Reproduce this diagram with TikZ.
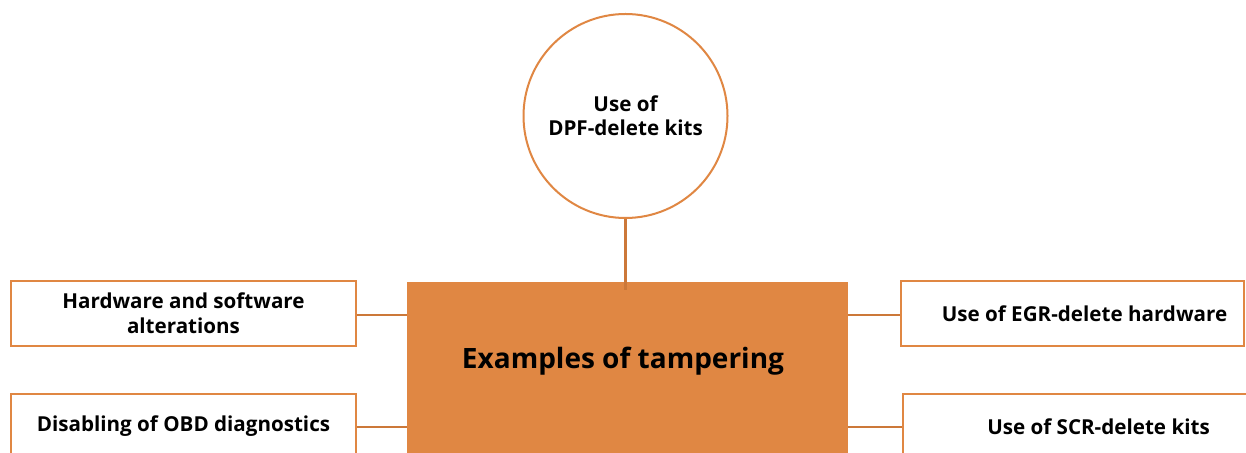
\documentclass[tikz,border=0pt]{standalone}
\usepackage{fontspec}
\setmainfont{Open Sans}
\newlength{\du}
\setlength{\du}{0.5pt}
\definecolor{tamperfill}{rgb}{0.878431, 0.529412, 0.262745}
\definecolor{tamperline}{rgb}{0.800000, 0.470588, 0.223529}
\tikzset{
  sidebox/.style={draw=tamperfill, line width=2.4\du, fill=white, minimum height=65\du,
    inner sep=0pt, align=center, font=\fontsize{10.3}{12.5}\selectfont\bfseries},
  kitcircle/.style={circle, draw=tamperfill, line width=2\du, fill=white, minimum size=204\du,
    inner sep=0pt, align=center, font=\fontsize{10.3}{12}\selectfont\bfseries},
  link/.style={draw=tamperline, line width=2.4\du}
}

\begin{document}
\begin{tikzpicture}
\pgftransformxscale{1.000000}
\pgftransformyscale{-1.000000}
\clip (0\du,0\du) rectangle (1246\du,453\du);
\fill[white] (0\du,0\du) rectangle (1246\du,453\du);
% centre block
\node[fill=tamperfill, minimum width=441\du, minimum height=200\du, inner sep=0pt] (tamper) at (627.5\du,382\du){};
\node[font=\fontsize{14}{16}\selectfont\bfseries] (tampertitle) at (623\du,361\du){Examples of tampering};
% circle on top
\node[kitcircle] (dpf) at (625.5\du,116\du){Use of\\DPF-delete kits};
% boxes on the left
\node[sidebox, minimum width=345\du] (hwsw) at (183.5\du,313.5\du){Hardware and software\\alterations};
\node[sidebox, minimum width=345\du] (obd) at (183.5\du,426.5\du){Disabling of OBD diagnostics};
% boxes on the right
\node[sidebox, minimum width=343\du] (egr) at (1072.5\du,313.5\du){\hspace*{24\du}Use of EGR-delete hardware};
\node[sidebox, minimum width=345\du] (scr) at (1075.5\du,426.5\du){\hspace*{46\du}Use of SCR-delete kits};
% connectors
\draw[link, shorten >=-8\du] (dpf.south) -- (dpf.south |- tamper.north);
\draw[link] (hwsw.east |- 0,315\du) -- (tamper.west |- 0,315\du);
\draw[link] (obd.east |- 0,427\du) -- (tamper.west |- 0,427\du);
\draw[link] (tamper.east |- 0,315\du) -- (egr.west |- 0,315\du);
\draw[link] (tamper.east |- 0,427\du) -- (scr.west |- 0,427\du);
\end{tikzpicture}
\end{document}
